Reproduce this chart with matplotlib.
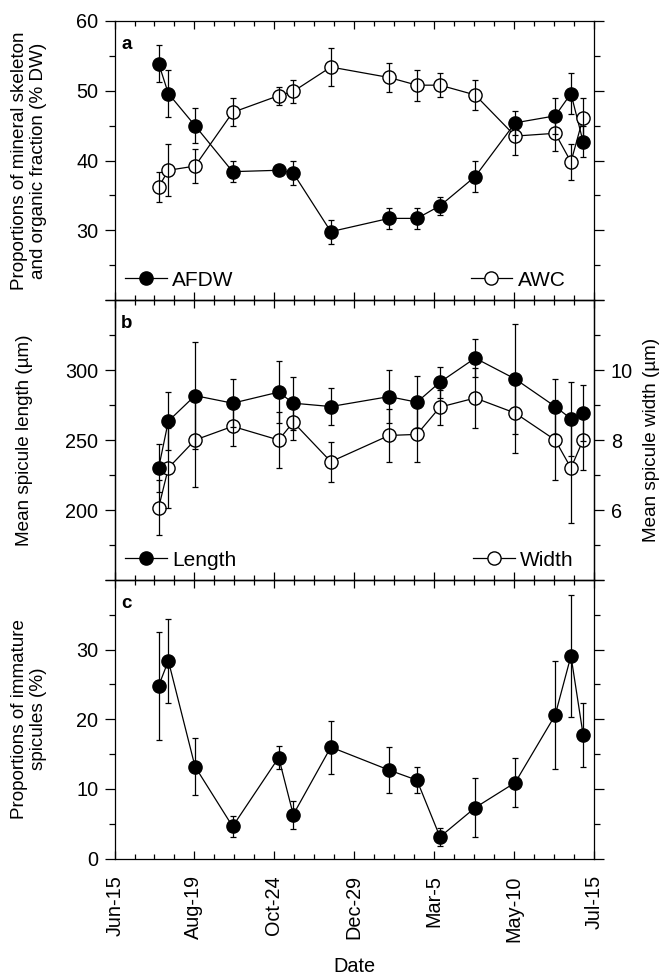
import numpy as np
import pandas as pd
import matplotlib
matplotlib.use('Agg')
import matplotlib.pyplot as plt
import matplotlib.dates as mdates
from matplotlib.lines import Line2D
from matplotlib.legend import Legend

plt.rcParams['font.family'] = ['Liberation Sans', 'DejaVu Sans']

# sampling dates (one annual cycle)
dates = ['2010-07-21', '2010-07-29', '2010-08-20', '2010-09-20', '2010-10-28',
         '2010-11-09', '2010-12-10', '2011-01-27', '2011-02-19', '2011-03-10',
         '2011-04-08', '2011-05-11', '2011-06-13', '2011-06-26', '2011-07-06']
tick_dates = ['2010-06-15', '2010-08-19', '2010-10-24', '2010-12-29',
              '2011-03-05', '2011-05-10', '2011-07-15']
tick_labels = ['Jun-15', 'Aug-19', 'Oct-24', 'Dec-29', 'Mar-5', 'May-10', 'Jul-15']

# panel a: % DW
afdw = [53.9, 49.6, 45.0, 38.4, 38.6, 38.2, 29.8, 31.7, 31.7, 33.5, 37.7, 45.4, 46.4, 49.6, 42.7]
afdw_err = [2.7, 3.4, 2.5, 1.5, 0.4, 1.7, 1.7, 1.5, 1.5, 1.3, 2.2, 1.7, 2.6, 2.9, 2.2]
awc = [36.2, 38.6, 39.2, 46.9, 49.3, 49.9, 53.4, 51.9, 50.8, 50.8, 49.4, 43.5, 43.9, 39.8, 46.1]
awc_err = [2.2, 3.7, 2.4, 2.0, 1.3, 1.7, 2.7, 2.1, 2.2, 1.7, 2.2, 2.7, 2.6, 2.6, 2.9]

# panel b: spicule length (um) and width (um)
length = [230.1, 263.5, 281.7, 276.3, 284.2, 276.3, 273.9, 281.0, 277.0, 291.3, 308.5, 293.6, 273.9, 265.2, 269.4]
length_err = [17, 21, 38, 17, 22, 19, 13, 19, 18.5, 11, 13.5, 39.6, 19.7, 26.5, 19.9]
width = [6.07, 7.2, 8.0, 8.39, 8.0, 8.51, 7.38, 8.13, 8.16, 8.94, 9.2, 8.77, 8.0, 7.2, 8.0]
width_err = [0.78, 1.14, 1.35, 0.57, 0.8, 0.52, 0.57, 0.76, 0.79, 0.5, 0.86, 1.13, 1.14, 1.56, 0.87]

# panel c: immature spicules (%)
immature = [24.8, 28.4, 13.2, 4.6, 14.5, 6.3, 16.0, 12.7, 11.25, 3.1, 7.3, 10.9, 20.6, 29.1, 17.8]
immature_err = [7.8, 6.0, 4.1, 1.5, 1.7, 2.0, 3.8, 3.3, 1.9, 1.25, 4.2, 3.5, 7.7, 8.8, 4.6]

x = mdates.date2num(pd.to_datetime(dates).values)
xt = mdates.date2num(pd.to_datetime(tick_dates).values)
xminor = np.concatenate([np.linspace(a, b, 5)[1:-1] for a, b in zip(xt[:-1], xt[1:])])

TICK_FS = 14.3
LABEL_FS = 13.6
LEG_FS = 15

fig = plt.figure(figsize=(6.63, 9.75), dpi=100)
L, W = 115 / 663, 479 / 663
def box(top, bottom):
    return [L, 1 - bottom / 975, W, (bottom - top) / 975]

ax_a = fig.add_axes(box(21, 300))
ax_b = fig.add_axes(box(300, 580))
ax_c = fig.add_axes(box(580, 858.5))
ax_w = ax_b.twinx()

def series(ax, y, err, filled, z=3):
    ax.plot(x, y, '-o', color='black', lw=0.9, ms=9.5,
            mfc='black' if filled else 'white', mec='black', mew=1.0,
            zorder=z, clip_on=False)
    ax.errorbar(x, y, yerr=err, fmt='none', ecolor='black', elinewidth=0.9,
                capsize=2.5, capthick=0.9, zorder=z + 0.5, clip_on=False)

def style_x(ax, labels=False):
    ax.set_xlim(xt[0], xt[-1])
    ax.set_xticks(xt)
    ax.set_xticks(xminor, minor=True)
    ax.tick_params(axis='x', which='both', direction='in', top=True, bottom=True)
    ax.tick_params(axis='x', which='major', length=6, width=0.9)
    ax.tick_params(axis='x', which='minor', length=3.5, width=0.9)
    if labels:
        ax.set_xticklabels(tick_labels, rotation=90, fontsize=TICK_FS)
        ax.tick_params(axis='x', pad=12)
    else:
        ax.set_xticklabels([])

def style_y(ax, lo, hi, step, shown, right=False):
    ax.set_ylim(lo, hi)
    major = np.arange(lo, hi + step / 2, step)
    ax.set_yticks(major)
    ax.set_yticks(np.arange(lo + step / 2, hi, step), minor=True)
    ax.set_yticklabels([('%g' % v) if v in shown else '' for v in major], fontsize=TICK_FS)
    ax.tick_params(axis='y', which='major', direction='out', length=7, width=0.9, pad=5)
    ax.tick_params(axis='y', which='minor', direction='out', length=4, width=0.9)
    if not right:
        ax.tick_params(axis='y', which='both', right=True)

for ax in (ax_a, ax_b, ax_c, ax_w):
    for s in ax.spines.values():
        s.set_linewidth(0.9)

# panel a
series(ax_a, afdw, afdw_err, True)
series(ax_a, awc, awc_err, False)
style_x(ax_a)
style_y(ax_a, 20, 60, 10, [30, 40, 50, 60])
ax_a.set_ylabel('Proportions of mineral skeleton\nand organic fraction (% DW)',
                fontsize=LABEL_FS, va='center', linespacing=1.15)
ax_a.yaxis.set_label_coords((29 - 115) / 479, 0.5)

# panel b
series(ax_b, length, length_err, True, z=4)
series(ax_w, width, width_err, False, z=3)
ax_b.set_zorder(ax_w.get_zorder() + 1)
ax_b.patch.set_visible(False)
style_x(ax_b)
style_x(ax_w)
style_y(ax_b, 150, 350, 50, [200, 250, 300], right=True)
style_y(ax_w, 4, 12, 2, [6, 8, 10], right=True)
ax_b.tick_params(axis='y', which='both', right=False)
ax_b.set_ylabel('Mean spicule length (µm)', fontsize=LABEL_FS, va='center')
ax_b.yaxis.set_label_coords((25 - 115) / 479, 0.5)
ax_w.set_ylabel('Mean spicule width (µm)', fontsize=LABEL_FS, va='center', rotation=90)
ax_w.yaxis.set_label_coords((651 - 115) / 479, 0.5)

# panel c
series(ax_c, immature, immature_err, True)
style_x(ax_c, labels=True)
style_y(ax_c, 0, 40, 10, [0, 10, 20, 30])
ax_c.set_ylabel('Proportions of immature\nspicules (%)', fontsize=LABEL_FS,
                va='center', linespacing=1.15)
ax_c.yaxis.set_label_coords((29 - 115) / 479, 0.5)
ax_c.set_xlabel('Date', fontsize=TICK_FS, va='center')
ax_c.xaxis.set_label_coords(0.5, (858.5 - 966) / 278.5)

# panel letters
for ax, letter in ((ax_a, 'a'), (ax_b, 'b'), (ax_c, 'c')):
    ax.text(0.013, 0.945, letter, transform=ax.transAxes, fontsize=13.5,
            fontweight='bold', ha='left', va='top', zorder=10)

# legends (one entry each, placed in opposite corners)
def handle(filled):
    return Line2D([], [], color='black', lw=0.9, marker='o', ms=9.5,
                  mfc='black' if filled else 'white', mec='black')

def legend(ax, filled, text, loc, anchor):
    lg = Legend(ax, [handle(filled)], [text], loc=loc, bbox_to_anchor=anchor,
                frameon=False, fontsize=LEG_FS, handlelength=2.0,
                handletextpad=0.25, borderaxespad=0.1, borderpad=0.4)
    lg.set_zorder(10)
    ax.add_artist(lg)

legend(ax_a, True, 'AFDW', 'lower left', (0, 0))
legend(ax_a, False, 'AWC', 'lower right', (0.962, 0))
legend(ax_b, True, 'Length', 'lower left', (0, 0))
legend(ax_b, False, 'Width', 'lower right', (0.979, 0))

fig.savefig('out.png', dpi=100)
